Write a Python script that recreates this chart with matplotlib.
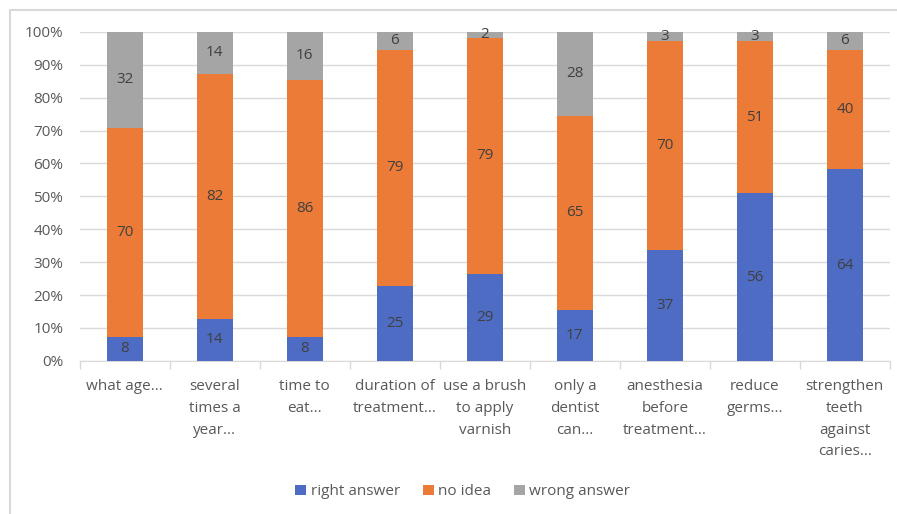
import numpy as np
import matplotlib.pyplot as plt
from matplotlib.patches import Rectangle

plt.rcParams['font.family'] = ['Open Sans', 'DejaVu Sans']

categories = ['what age...', 'several\ntimes a\nyear...', 'time to\neat...',
              'duration of\ntreatment...', 'use a brush\nto apply\nvarnish',
              'only a\ndentist\ncan...', 'anesthesia\nbefore\ntreatment...',
              'reduce\ngerms...', 'strengthen\nteeth\nagainst\ncaries...']
right_answer = np.array([8, 14, 8, 25, 29, 17, 37, 56, 64])
no_idea = np.array([70, 82, 86, 79, 79, 65, 70, 51, 40])
wrong_answer = np.array([32, 14, 16, 6, 2, 28, 3, 3, 6])

series = [('right answer', right_answer, '#4E6CC4'),
          ('no idea', no_idea, '#EB7B37'),
          ('wrong answer', wrong_answer, '#A5A5A5')]

total = right_answer + no_idea + wrong_answer
x = np.arange(len(categories))

fig = plt.figure(figsize=(8.97, 5.14), dpi=100)
ax = fig.add_axes([0.089, 0.298, 0.903, 0.640])

# frame round the chart
fig.patches.append(Rectangle((0.011, -0.01), 1.0, 0.99, transform=fig.transFigure,
                             fill=False, edgecolor='#D9D9D9', linewidth=1.5))

bottom = np.zeros(len(categories))
for name, vals, col in series:
    frac = vals / total
    ax.bar(x, frac, 0.4, bottom=bottom, color=col, label=name, zorder=3)
    for xi, b, f, v in zip(x, bottom, frac, vals):
        ax.text(xi, b + f / 2, str(v), ha='center', va='center',
                fontsize=11, color='#404040', zorder=4)
    bottom = bottom + frac

ax.set_xlim(-0.5, len(categories) - 0.5)
ax.set_ylim(0, 1)
ax.set_yticks(np.arange(0, 1.01, 0.1))
ax.set_yticklabels(['%d%%' % round(t * 100) for t in np.arange(0, 1.01, 0.1)])
ax.yaxis.grid(True, color='#D9D9D9', linewidth=1, zorder=0)
ax.set_xticks(x)
ax.set_xticklabels(categories, va='top', linespacing=1.62)
ax.set_xticks(np.arange(-0.5, len(categories)), minor=True)
ax.tick_params(axis='x', which='major', length=0, pad=13, labelsize=11,
               labelcolor='#595959')
ax.tick_params(axis='x', which='minor', length=6, color='#D9D9D9', width=1)
ax.tick_params(axis='y', length=0, pad=12, labelsize=11, labelcolor='#595959')
for s in ['top', 'right', 'left']:
    ax.spines[s].set_visible(False)
ax.spines['bottom'].set_color('#D9D9D9')

fig.legend(loc='center', bbox_to_anchor=(0.516, 0.043), ncol=3, frameon=False,
           fontsize=11, handlelength=0.7, handleheight=0.7, handletextpad=0.3,
           columnspacing=1.5, labelcolor='#595959')

fig.savefig('out.png', dpi=100)
